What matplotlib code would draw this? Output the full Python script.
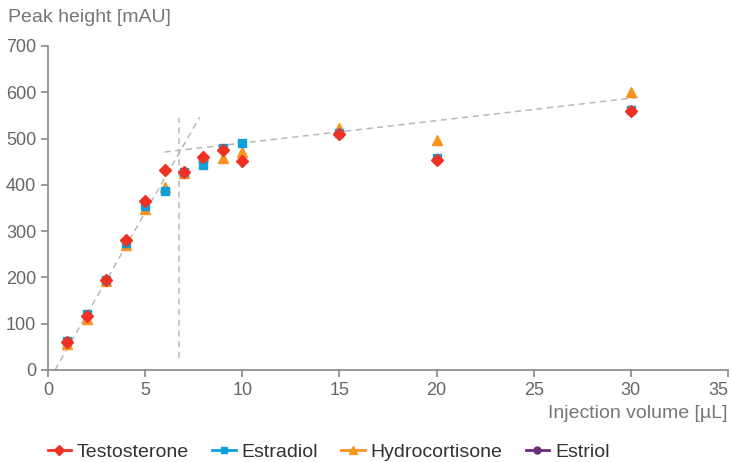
import matplotlib
matplotlib.use("Agg")
import matplotlib.pyplot as plt
from matplotlib.lines import Line2D

plt.rcParams['font.family'] = ['Liberation Sans', 'DejaVu Sans']

volume = [1, 2, 3, 4, 5, 6, 7, 8, 9, 10, 15, 20, 30]
testosterone = [60, 117, 195, 281, 365, 432, 428, 460, 475, 451, 510, 453, 559]
estradiol = [62, 120, 195, 275, 355, 386, 428, 442, 480, 490, 512, 458, 562]
hydrocortisone = [57, 110, 193, 270, 347, 395, 425, 462, 458, 470, 522, 497, 600]
estriol = []

# trend lines
steep_x = [0.36, 7.8]
steep_y = [0, 546]
flat_x = [6.0, 30.6]
flat_y = [471, 590]
vert_x = [6.74, 6.74]
vert_y = [26, 544]

fig = plt.figure(figsize=(7.31, 4.62), dpi=100)
ax = fig.add_axes([48 / 731, 1 - 370 / 462, 680 / 731, 324 / 462])

dash = dict(color="#b8b8b8", lw=1.1, ls=(0, (4, 3)), zorder=1)
ax.plot(steep_x, steep_y, **dash)
ax.plot(flat_x, flat_y, **dash)
ax.plot(vert_x, vert_y, **dash)

ax.plot(volume, hydrocortisone, ls="none", marker="^", ms=7, color="#f7941d", zorder=2)
ax.plot(volume, estradiol, ls="none", marker="s", ms=6, color="#0ea0db", zorder=3)
ax.plot(volume, testosterone, ls="none", marker="D", ms=6.5, color="#ef3124", zorder=4)
ax.plot(estriol, estriol, ls="none", marker="o", ms=5, color="#6b2c7c")

ax.set_xlim(0, 35)
ax.set_ylim(0, 700)
ax.set_xticks(range(0, 36, 5))
ax.set_yticks(range(0, 701, 100))
for s in ["top", "right"]:
    ax.spines[s].set_visible(False)
for s in ["left", "bottom"]:
    ax.spines[s].set_color("#888888")
    ax.spines[s].set_linewidth(1.2)
ax.tick_params(colors="#888888", labelcolor="#666666", labelsize=13, length=5, width=1.2)
# last x label sits flush with the axis end
ax.get_xticklabels()[-1].set_horizontalalignment("right")

fig.text(8 / 731, 1 - 18 / 462, "Peak height [mAU]", color="#777777", fontsize=14, va="center")
fig.text(727 / 731, 1 - 413 / 462, "Injection volume [µL]", color="#777777", fontsize=14, va="center", ha="right")

handles = [
    Line2D([], [], color="#ef3124", marker="D", ms=5, lw=2, label="Testosterone"),
    Line2D([], [], color="#0ea0db", marker="s", ms=5, lw=2, label="Estradiol"),
    Line2D([], [], color="#f7941d", marker="^", ms=6, lw=2, label="Hydrocortisone"),
    Line2D([], [], color="#6b2c7c", marker="o", ms=5, lw=2, label="Estriol"),
]
fig.legend(handles=handles, loc="center left", bbox_to_anchor=(38 / 731, 1 - 452 / 462), ncol=4,
           frameon=False, fontsize=14, handlelength=1.2, handletextpad=0.3, columnspacing=1.2,
           labelcolor="#333333", borderpad=0)

fig.savefig("out.png", dpi=100)
